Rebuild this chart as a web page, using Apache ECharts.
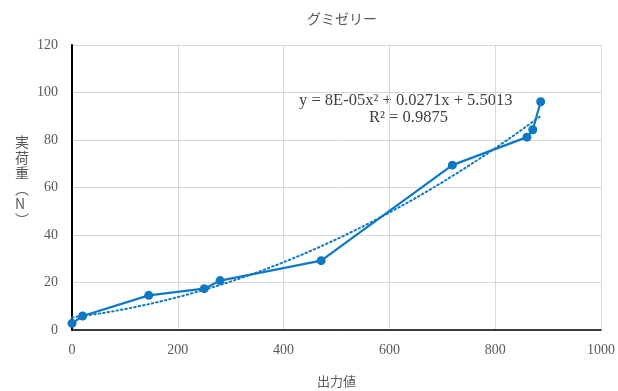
<!DOCTYPE html>
<html>
<head>
<meta charset="utf-8">
<script src="https://cdn.jsdelivr.net/npm/echarts@6/dist/echarts.min.js"></script>
<style>html,body{margin:0;padding:0;background:#fff;overflow:hidden;width:100%;height:100%}#c{width:618px;height:391px}</style>
</head>
<body>
<div id="c"></div>
<script>
const titleText = 'グミゼリー';
const xName = '出力値';
const yName = '実\n荷\n重\n︵\nN\n︶';
const xValues = [0, 20, 145, 250, 280, 471, 719, 860, 871, 886];
const yValues = [2.8, 5.9, 14.6, 17.4, 20.8, 29.2, 69.4, 81.2, 84.3, 96.1];
const eqLine1 = 'y = 8E-05x² + 0.0271x + 5.5013';
const eqLine2 = 'R² = 0.9875';

// least-squares quadratic fit from the data
function quadFit(xs, ys) {
  let S = [0,0,0,0,0], T = [0,0,0];
  for (let i = 0; i < xs.length; i++) {
    let p = 1;
    for (let k = 0; k < 5; k++) { S[k] += p; if (k < 3) T[k] += p * ys[i]; p *= xs[i]; }
  }
  const A = [[S[0],S[1],S[2],T[0]],[S[1],S[2],S[3],T[1]],[S[2],S[3],S[4],T[2]]];
  for (let i = 0; i < 3; i++) {
    for (let j = i+1; j < 3; j++) {
      const f = A[j][i]/A[i][i];
      for (let k = i; k < 4; k++) A[j][k] -= f*A[i][k];
    }
  }
  const c = [0,0,0];
  for (let i = 2; i >= 0; i--) {
    let s = A[i][3];
    for (let k = i+1; k < 3; k++) s -= A[i][k]*c[k];
    c[i] = s / A[i][i];
  }
  return c;
}
const coef = quadFit(xValues, yValues);
const xmin = Math.min(...xValues), xmax = Math.max(...xValues);
const trend = [];
for (let i = 0; i <= 80; i++) {
  const x = xmin + (xmax - xmin) * i / 80;
  trend.push([x, coef[0] + coef[1]*x + coef[2]*x*x]);
}

const blue = '#0F78C2';
const serif = '"Liberation Serif", "Times New Roman", serif';
const chart = echarts.init(document.getElementById('c'), null, {renderer: 'canvas'});
chart.setOption({
  animation: false,
  title: {
    text: titleText, left: 337, top: 7, textAlign: 'center',
    textStyle: {fontFamily: '"Noto Sans CJK JP"', fontWeight: 'normal', fontSize: 14, color: '#595959'}
  },
  grid: {left: 72, top: 45, right: 17, bottom: 61, containLabel: false, outerBoundsMode: 'none'},
  xAxis: {
    type: 'value', min: 0, max: 1000, interval: 200,
    name: xName, nameLocation: 'middle', nameGap: 45,
    nameTextStyle: {fontFamily: '"Noto Sans CJK JP"', fontSize: 13, color: '#595959'},
    axisLine: {show: true, onZero: false, lineStyle: {color: '#000', width: 1.5}},
    axisTick: {show: false},
    axisLabel: {fontFamily: serif, fontSize: 14, color: '#595959', margin: 13, formatter: v => String(v)},
    splitLine: {show: true, lineStyle: {color: '#d9d9d9', width: 1}}
  },
  yAxis: {
    type: 'value', min: 0, max: 120, interval: 20,
    axisLine: {show: true, onZero: false, lineStyle: {color: '#000', width: 2}},
    axisTick: {show: false},
    axisLabel: {fontFamily: serif, fontSize: 14, color: '#595959', margin: 14, formatter: v => String(v)},
    splitLine: {show: true, lineStyle: {color: '#d9d9d9', width: 1}}
  },
  graphic: [
    {type: 'text', left: 15, top: 134,
     style: {text: yName, fontFamily: '"Noto Sans CJK JP"', fontSize: 14, lineHeight: 15.5, fill: '#595959', align: 'center'}},
    {type: 'text', left: 299, top: 92,
     style: {text: eqLine1, fontFamily: serif, fontSize: 16.5, fill: '#404040'}},
    {type: 'text', left: 369, top: 109,
     style: {text: eqLine2, fontFamily: serif, fontSize: 16.5, fill: '#404040'}}
  ],
  series: [
    {
      type: 'line', data: trend, showSymbol: false, smooth: false, z: 2,
      lineStyle: {color: blue, width: 2, type: [1.5, 3], cap: 'round'}
    },
    {
      type: 'line', data: xValues.map((x, i) => [x, yValues[i]]),
      symbol: 'circle', symbolSize: 9, z: 3,
      itemStyle: {color: blue},
      lineStyle: {color: blue, width: 2.25}
    }
  ]
});
</script>
</body>
</html>
